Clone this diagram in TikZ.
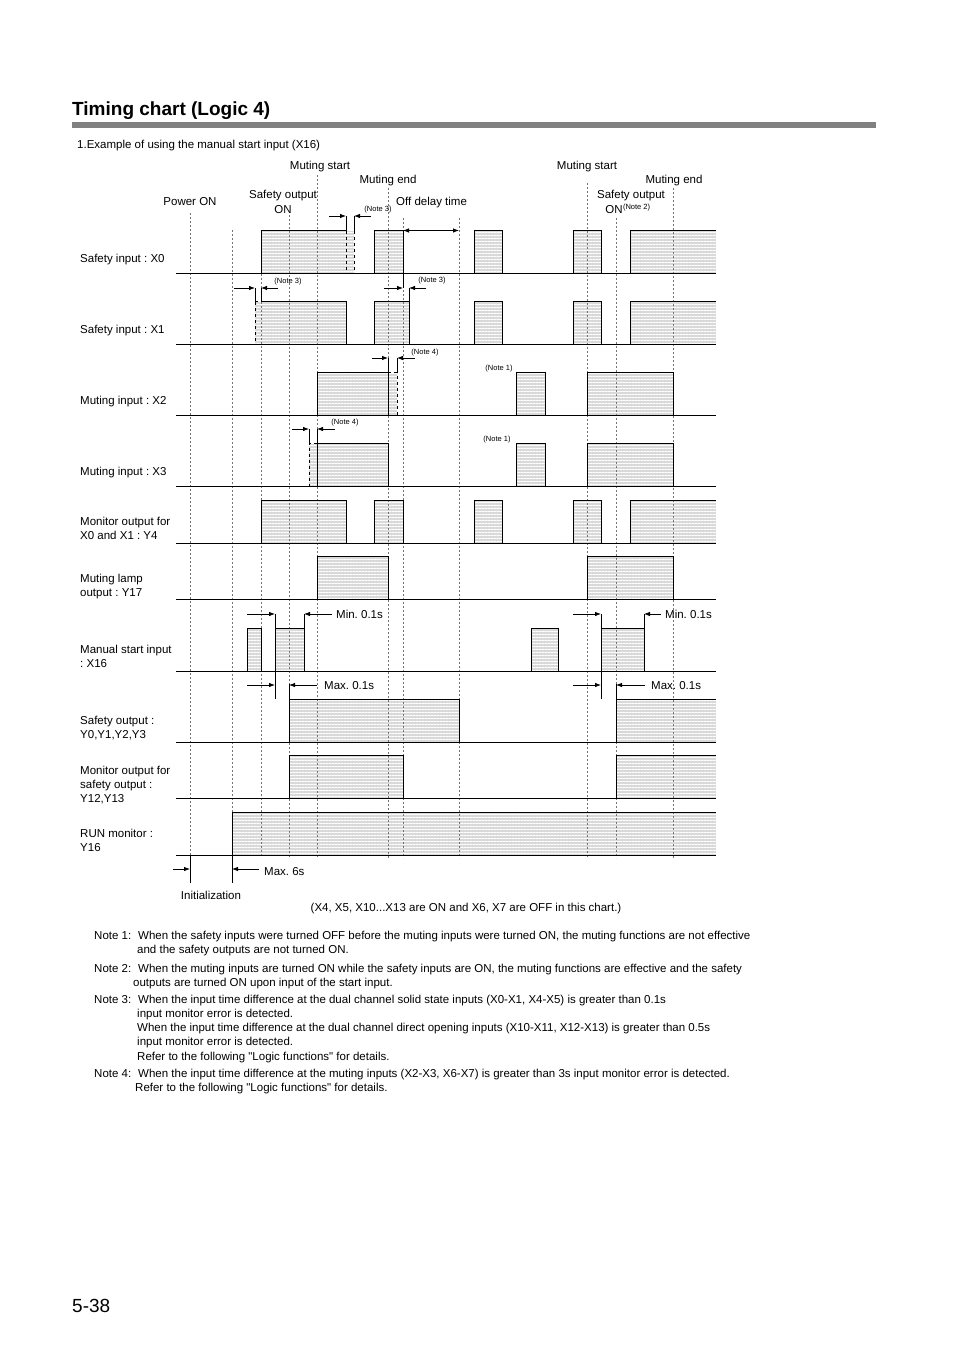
\documentclass[tikz,border=0pt]{standalone}
\usepackage{fontspec}
\setmainfont{Liberation Sans}
\usetikzlibrary{arrows.meta,positioning,patterns.meta}
\frenchspacing

\definecolor{pulsefill}{gray}{0.85}
\definecolor{guidegray}{gray}{0.45}
\definecolor{bargray}{gray}{0.5}

\pgfdeclarelayer{fills}
\pgfdeclarelayer{guides}
\pgfsetlayers{fills,guides,main}

% \pulse{rise}{fall}{baseline}
\newcommand\pulse[3]{%
  \begin{pgfonlayer}{fills}\path[hatch] (#1,#3) rectangle (#2,#3-42.5);\end{pgfonlayer}
  \draw[wave] (#1,#3) |- (#2,#3-42.5) -- (#2,#3);}
% \openpulse{rise}{baseline}: still ON at the right end
\newcommand\openpulse[2]{%
  \begin{pgfonlayer}{fills}\path[hatch] (#1,#2) rectangle (716,#2-42.5);\end{pgfonlayer}
  \draw[wave] (#1,#2) |- (716,#2-42.5);}
% \fuzz{from}{to}{baseline}: uncertain edge strip
\newcommand\fuzz[3]{%
  \begin{pgfonlayer}{fills}\path[hatch] (#1,#3) rectangle (#2,#3-42.5);\end{pgfonlayer}}

\begin{document}
\begin{tikzpicture}[x=1pt,y=-1pt,>={Latex[length=6pt,width=4.5pt]},
  every node/.style={font=\fontsize{11.5}{14}\selectfont,inner sep=0pt},
  lbl/.style={anchor=base west},
  tag/.style={anchor=base},
  small/.style={font=\fontsize{7.5}{9}\selectfont},
  notetext/.style={anchor=base west,font=\fontsize{11.5}{14}\selectfont},
  hatch/.style={fill=pulsefill,
    postaction={pattern={Lines[angle=0,distance=3pt,line width=.5pt]},pattern color=white}},
  wave/.style={line width=1pt},
  base/.style={line width=.9pt},
  guide/.style={guidegray,line width=.5pt,dash pattern=on 2pt off 2pt},
  dim/.style={->,line width=.8pt}]
  \useasboundingbox (0,0) rectangle (954,1351);

  % heading
  \node[anchor=base west,font=\bfseries\fontsize{19}{22}\selectfont] (title) at (72,116) {Timing chart (Logic 4)};
  \fill[bargray] (72,122) rectangle (876,128);
  \node[anchor=base west] (example) at (77,149) {1.Example of using the manual start input (X16)};

  % event labels
  \node[tag] (mstartA) at (320,170) {Muting start};
  \node[tag] (mendA) at (388,184) {Muting end};
  \node[tag] (soutA) at (283,198) {Safety output};
  \node[tag] (sonA) at (283,213) {ON};
  \node[tag] (power) at (190,205) {Power ON};
  \node[anchor=base west] (offdelay) at (396,205) {Off delay time};
  \node[tag] (mstartB) at (587,170) {Muting start};
  \node[tag] (mendB) at (674,184) {Muting end};
  \node[tag] (soutB) at (631,198) {Safety output};
  \node[tag] (sonB) at (614,213) {ON};
  \node[small,anchor=base west,yshift=4pt] (note2) at (sonB.base east) {(Note 2)};
  \node[small] (n3a) at (378,210) {(Note 3)};
  \node[small] (n3b) at (288,282) {(Note 3)};
  \node[small] (n3c) at (432,281) {(Note 3)};
  \node[small] (n4a) at (425,353) {(Note 4)};
  \node[small] (n4b) at (345,423) {(Note 4)};
  \node[small] (n1a) at (499,369) {(Note 1)};
  \node[small] (n1b) at (497,440) {(Note 1)};

  % signal names
  \foreach \ty/\tx [count=\i] in {262/Safety input : X0, 333/Safety input : X1,
      404/Muting input : X2, 475/Muting input : X3, 525/Monitor output for,
      539/X0 and X1 : Y4, 582/Muting lamp, 596/output : Y17, 653/Manual start input,
      667/: X16, 724/Safety output :, 738/{Y0,Y1,Y2,Y3}, 774/Monitor output for,
      788/safety output :, 802/{Y12,Y13}, 837/RUN monitor :, 851/Y16}
    \node[lbl] (sig\i) at (80,\ty) {\tx};

  % guides
  \begin{pgfonlayer}{guides}
  \foreach \gx/\gy in {190/213,232/230,261/230,289/215,317/175,388/188,403/218,
      459/218,587/183,616/218,673/188}
    \draw[guide] (\gx,\gy) -- (\gx,858);
  \end{pgfonlayer}

  % baselines
  \foreach \b in {273,344,415,486,543,599,671,742,798,855}
    \draw[base] (176,\b) -- (716,\b);

  % X0
  \fuzz{261}{354}{273}
  \draw[wave] (261,273) |- (346,230.5);
  \draw[wave,dashed] (346,230.5) -- (346,273) (354,230.5) -- (354,273);
  \draw[wave] (346,230.5) -- (346,216) (354,230.5) -- (354,216);
  \pulse{374}{403}{273} \pulse{474}{502}{273} \pulse{573}{601}{273} \openpulse{630}{273}
  \draw[wave] (403,273) -- (403,288);
  \draw[<->,line width=.8pt] (403,230.5) -- (459,230.5);
  % X1
  \fuzz{255}{346}{344}
  \draw[wave] (261,301.5) -- (346,301.5) -- (346,344);
  \draw[wave,dashed] (255,301.5) -- (261,301.5) (255,301.5) -- (255,344);
  \draw[wave] (255,301.5) -- (255,288) (261,301.5) -- (261,288);
  \pulse{374}{409}{344} \pulse{474}{502}{344} \pulse{573}{601}{344} \openpulse{630}{344}
  \draw[wave] (409,301.5) -- (409,288);
  % X2
  \fuzz{317}{397}{415}
  \draw[wave] (317,415) |- (388,372.5) -- (388,415);
  \draw[wave,dashed] (388,372.5) -- (397,372.5) -- (397,415);
  \draw[wave] (388,372.5) -- (388,358) (397,372.5) -- (397,358);
  \pulse{516}{545}{415} \pulse{587}{673}{415}
  % X3
  \fuzz{309}{388}{486}
  \draw[wave] (317,486) |- (388,443.5) -- (388,486);
  \draw[wave,dashed] (317,443.5) -- (309,443.5) -- (309,486);
  \draw[wave] (309,443.5) -- (309,429) (317,443.5) -- (317,429);
  \pulse{516}{545}{486} \pulse{587}{673}{486}
  % Y4
  \pulse{261}{346}{543} \pulse{374}{403}{543} \pulse{474}{502}{543} \pulse{573}{601}{543} \openpulse{630}{543}
  % Y17
  \pulse{317}{388}{599} \pulse{587}{673}{599}
  % X16
  \pulse{247}{261}{671} \pulse{275}{304}{671} \pulse{531}{558}{671} \pulse{601}{644}{671}
  \draw[wave] (275,614) -- (275,699) (304,628.5) -- (304,614);
  \draw[wave] (601,614) -- (601,699) (644,628.5) -- (644,614);
  % Y0-Y3
  \pulse{289}{459}{742} \openpulse{616}{742}
  \draw[wave] (289,699.5) -- (289,684) (616,699.5) -- (616,684);
  % Y12,Y13
  \pulse{289}{403}{798} \openpulse{616}{798}
  % Y16
  \openpulse{232}{855}
  \draw[wave] (190,855) -- (190,883) (232,855) -- (232,883);

  % time differences
  \draw[dim] (329,216) -- (346,216); \draw[dim] (371,216) -- (354,216);
  \draw[dim] (234,288) -- (255,288); \draw[dim] (278,288) -- (261,288);
  \draw[dim] (384,288) -- (403,288); \draw[dim] (426,288) -- (409,288);
  \draw[dim] (372,358) -- (388,358); \draw[dim] (415,358) -- (397,358);
  \draw[dim] (292,429) -- (309,429); \draw[dim] (335,429) -- (317,429);
  \draw[dim] (247,614) -- (275,614); \draw[dim] (332,614) -- (304,614);
  \draw[dim] (573,614) -- (601,614); \draw[dim] (661,614) -- (644,614);
  \draw[dim] (247,685) -- (275,685); \draw[dim] (317,685) -- (289,685);
  \draw[dim] (573,685) -- (601,685); \draw[dim] (645,685) -- (616,685);
  \draw[dim] (173,869) -- (190,869); \draw[dim] (259,869) -- (232,869);
  \node[lbl] (minA) at (336,618) {Min. 0.1s};
  \node[lbl] (minB) at (665,618) {Min. 0.1s};
  \node[lbl] (maxA) at (324,689) {Max. 0.1s};
  \node[lbl] (maxB) at (651,689) {Max. 0.1s};
  \node[lbl] (max6) at (264,875) {Max. 6s};
  \node[tag] (init) at (211,899) {Initialization};
  \node[tag] (cond) at (466,911) {(X4, X5, X10...X13 are ON and X6, X7 are OFF in this chart.)};

  % notes
  \foreach \ny/\nn in {939/1,972/2,1003/3,1077/4}
    \node[notetext] (nlbl\nn) at (94,\ny) {Note \nn:};
  \foreach \ny/\nx/\nt [count=\i] in {
      939/138/{When the safety inputs were turned OFF before the muting inputs were turned ON, the muting functions are not effective},
      953/137/{and the safety outputs are not turned ON.},
      972/138/{When the muting inputs are turned ON while the safety inputs are ON, the muting functions are effective and the safety},
      986/133/{outputs are turned ON upon input of the start input.},
      1003/138/{When the input time difference at the dual channel solid state inputs (X0-X1, X4-X5) is greater than 0.1s},
      1017/137/{input monitor error is detected.},
      1031/137/{When the input time difference at the dual channel direct opening inputs (X10-X11, X12-X13) is greater than 0.5s},
      1045/137/{input monitor error is detected.},
      1060/137/{Refer to the following \textquotedbl Logic functions\textquotedbl{} for details.},
      1077/138/{When the input time difference at the muting inputs (X2-X3, X6-X7) is greater than 3s input monitor error is detected.},
      1091/135/{Refer to the following \textquotedbl Logic functions\textquotedbl{} for details.}}
    \node[notetext] (ntxt\i) at (\nx,\ny) {\nt};

  \node[anchor=base west,font=\fontsize{19}{22}\selectfont] (page) at (72,1312) {5-38};
\end{tikzpicture}
\end{document}
